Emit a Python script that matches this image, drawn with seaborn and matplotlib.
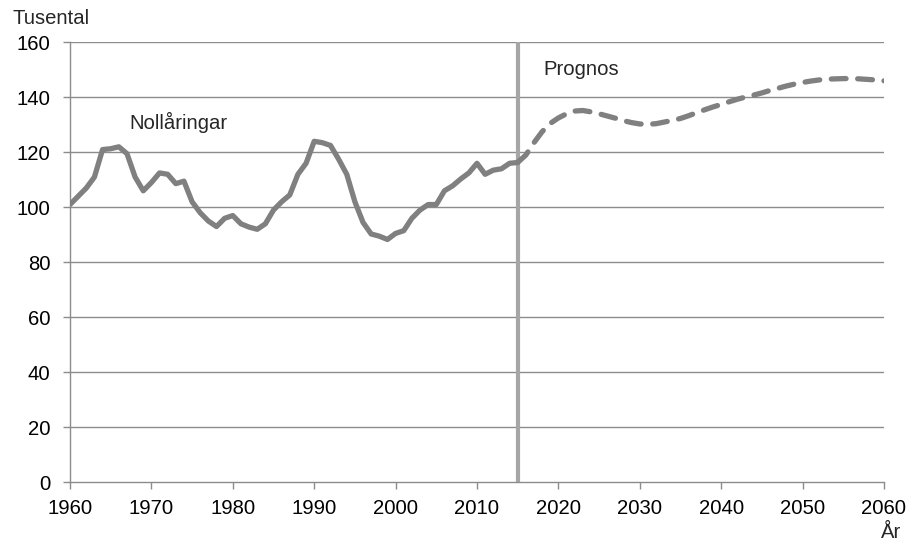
import matplotlib
matplotlib.use("Agg")
import matplotlib.pyplot as plt
import seaborn as sns
import pandas as pd

hist_years = list(range(1960, 2016))
hist_values = [101, 104, 107, 111, 121, 121.3, 122, 119.5, 111, 106,
               109, 112.5, 112, 108.6, 109.5, 102, 98, 95, 93, 96,
               97, 94, 92.8, 92, 94, 99, 102, 104.5, 112, 116,
               124, 123.5, 122.5, 117.5, 112, 102, 94.5, 90.3, 89.5, 88.3,
               90.5, 91.5, 96, 99, 101, 101, 106, 107.8, 110.3, 112.5,
               116, 112, 113.5, 114, 116, 116.3]

prog_years = list(range(2015, 2061))
prog_values = [116.3, 119, 123.5, 127.5, 130.5, 132.5, 134, 135, 135.2, 134.7,
               134, 133.2, 132.4, 131.5, 130.8, 130.3, 130.2, 130.4, 131, 131.6,
               132.3, 133.3, 134.4, 135.5, 136.5, 137.4, 138.4, 139.3, 140.1, 140.8,
               141.6, 142.5, 143.3, 144.1, 144.8, 145.4, 145.9, 146.3, 146.6, 146.7,
               146.8, 146.8, 146.7, 146.5, 146.3, 146]

x_ticks = list(range(1960, 2061, 10))
y_ticks = list(range(0, 161, 20))

sns.set_theme(style="white")
plt.rcParams['font.family'] = ['Liberation Sans', 'DejaVu Sans']

hist_df = pd.DataFrame({"År": hist_years, "Tusental": hist_values})
prog_df = pd.DataFrame({"År": prog_years, "Tusental": prog_values})

FS = 14.6
fig = plt.figure(figsize=(9.13, 5.44), dpi=100)
ax = fig.add_axes([70/913, 1 - 482.3/544, 814/913, 440/544])

grid_c = "#8c8c8c"
for v in y_ticks[1:]:
    ax.axhline(v, color=grid_c, lw=1.0, zorder=1)

ax.axvline(2015, color="#a6a6a6", lw=3.0, zorder=2)

line_c = "#808080"
sns.lineplot(data=hist_df, x="År", y="Tusental", ax=ax, color=line_c,
             lw=3.8, zorder=3, solid_capstyle="round", solid_joinstyle="round")
sns.lineplot(data=prog_df, x="År", y="Tusental", ax=ax, color=line_c,
             lw=3.8, zorder=3, dashes=False)
ax.lines[-1].set_dashes([2.8, 2.2])
ax.lines[-1].set_dash_capstyle("round")

ax.set_xlim(1960, 2060)
ax.set_ylim(0, 160)
ax.set_xticks(x_ticks)
ax.set_yticks(y_ticks)
ax.set_xlabel("")
ax.set_ylabel("")
ax.tick_params(axis="both", labelsize=FS, labelcolor="black", color=grid_c,
               length=5, width=1.0, direction="out")
ax.tick_params(axis="x", pad=7)
ax.tick_params(axis="y", pad=9)
ax.xaxis.set_ticks_position("bottom")
ax.yaxis.set_ticks_position("left")
for s in ["top", "right"]:
    ax.spines[s].set_visible(False)
for s in ["left", "bottom"]:
    ax.spines[s].set_color(grid_c)
    ax.spines[s].set_linewidth(1.0)

ax.text(1967.3, 131, "Nollåringar", fontsize=FS, ha="left", va="center")
ax.text(2018.1, 150, "Prognos", fontsize=FS, ha="left", va="center")
fig.text(12.5/913, 1 - 19/544, "Tusental", fontsize=FS, ha="left", va="center")
fig.text(891/913, 1 - 532/544, "År", fontsize=FS, ha="center", va="center")

fig.savefig("out.png", dpi=100)
